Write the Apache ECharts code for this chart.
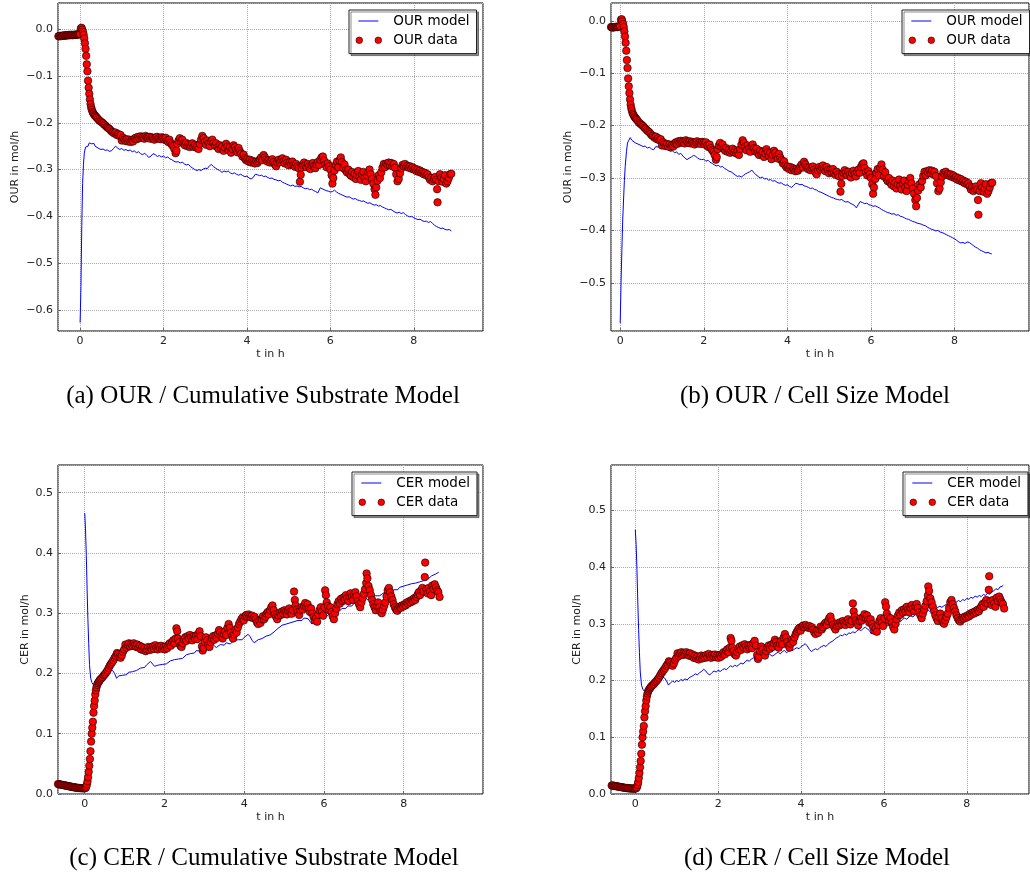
<!DOCTYPE html>
<html><head><meta charset="utf-8">
<script src="https://cdn.jsdelivr.net/npm/echarts@6/dist/echarts.min.js"></script>
<style>html,body{margin:0;padding:0;background:#fff}#c{width:1030px;height:876px}</style>
</head><body><div id="c"></div>
<script>
// ---- data: [t in h, value in mol/h] ----
const ourData = [
[-0.52,-0.015],[-0.50,-0.015],[-0.48,-0.014],[-0.46,-0.015],[-0.44,-0.014],[-0.42,-0.014],[-0.40,-0.014],[-0.38,-0.013],[-0.36,-0.014],[-0.34,-0.013],[-0.32,-0.013],[-0.30,-0.013],[-0.28,-0.013],[-0.26,-0.012],[-0.24,-0.013],[-0.22,-0.012],[-0.20,-0.012],[-0.18,-0.013],[-0.16,-0.012],[-0.14,-0.012],[-0.12,-0.012],[-0.10,-0.012],[-0.08,-0.011],[-0.06,-0.012],[-0.04,-0.011],[-0.02,-0.011],[0.00,-0.010],
[0.02,0.002],[0.035,0.003],[0.05,-0.001],[0.07,-0.006],[0.085,-0.012],[0.10,-0.02],[0.115,-0.03],[0.13,-0.042],[0.145,-0.057],[0.16,-0.075],[0.175,-0.09],[0.19,-0.11],[0.205,-0.125],[0.22,-0.138],[0.235,-0.15],[0.25,-0.16],[0.265,-0.167],[0.28,-0.172],[0.30,-0.177],[0.32,-0.18],[0.34,-0.183],[0.36,-0.185],[0.38,-0.187],[0.40,-0.189],[0.43,-0.192],[0.46,-0.195],[0.49,-0.197],[0.52,-0.199],[0.55,-0.201],[0.58,-0.204],[0.61,-0.206],[0.64,-0.209],[0.67,-0.211],[0.70,-0.213],[0.73,-0.216],[0.76,-0.219],[0.79,-0.22],[0.82,-0.223],[0.85,-0.221],[0.88,-0.226],[0.91,-0.224],[0.94,-0.228],[0.97,-0.226],
[1.00,-0.238],[1.03,-0.232],[1.06,-0.236],[1.09,-0.239],[1.12,-0.235],[1.15,-0.24],[1.18,-0.236],[1.21,-0.241],[1.24,-0.237],[1.27,-0.24],[1.30,-0.234],[1.33,-0.232],[1.36,-0.235],[1.39,-0.23],[1.42,-0.233],[1.45,-0.229],[1.48,-0.232],[1.51,-0.23],[1.54,-0.234],[1.57,-0.228],[1.60,-0.231],[1.63,-0.233],[1.66,-0.23],[1.69,-0.234],[1.72,-0.231],[1.75,-0.233],[1.78,-0.236],[1.81,-0.232],[1.84,-0.23],[1.87,-0.234],[1.90,-0.232],[1.93,-0.235],[1.96,-0.231],[1.99,-0.233],
[2.02,-0.236],[2.05,-0.232],[2.08,-0.238],[2.11,-0.241],[2.14,-0.236],[2.17,-0.243],[2.20,-0.247],[2.23,-0.25],[2.26,-0.256],[2.29,-0.265],[2.31,-0.26],[2.33,-0.245],[2.36,-0.238],[2.39,-0.233],[2.42,-0.24],[2.45,-0.236],[2.48,-0.244],[2.51,-0.248],[2.54,-0.243],[2.57,-0.25],[2.60,-0.246],[2.63,-0.252],[2.66,-0.248],[2.69,-0.244],[2.72,-0.251],[2.75,-0.247],[2.78,-0.253],[2.81,-0.249],[2.84,-0.256],[2.87,-0.245],[2.90,-0.236],[2.93,-0.228],[2.96,-0.233],[2.99,-0.24],
[3.02,-0.247],[3.05,-0.238],[3.08,-0.244],[3.11,-0.25],[3.14,-0.24],[3.17,-0.236],[3.20,-0.243],[3.23,-0.249],[3.26,-0.244],[3.29,-0.252],[3.32,-0.256],[3.35,-0.248],[3.38,-0.254],[3.41,-0.25],[3.44,-0.26],[3.47,-0.253],[3.50,-0.245],[3.53,-0.251],[3.56,-0.258],[3.59,-0.252],[3.62,-0.264],[3.65,-0.256],[3.68,-0.248],[3.71,-0.252],[3.74,-0.258],[3.77,-0.263],[3.80,-0.254],[3.83,-0.261],[3.86,-0.266],[3.89,-0.272],[3.92,-0.268],[3.95,-0.276],[3.98,-0.28],
[4.01,-0.278],[4.04,-0.283],[4.07,-0.279],[4.10,-0.285],[4.13,-0.281],[4.16,-0.284],[4.19,-0.287],[4.22,-0.283],[4.25,-0.286],[4.28,-0.282],[4.31,-0.278],[4.34,-0.274],[4.37,-0.28],[4.40,-0.269],[4.43,-0.274],[4.46,-0.279],[4.49,-0.283],[4.52,-0.28],[4.55,-0.285],[4.58,-0.281],[4.61,-0.278],[4.64,-0.284],[4.67,-0.289],[4.70,-0.293],[4.73,-0.285],[4.76,-0.279],[4.79,-0.284],[4.82,-0.28],[4.85,-0.276],[4.88,-0.282],[4.91,-0.287],[4.94,-0.279],[4.97,-0.285],
[5.00,-0.291],[5.03,-0.284],[5.06,-0.289],[5.09,-0.283],[5.12,-0.29],[5.15,-0.294],[5.18,-0.288],[5.21,-0.293],[5.24,-0.297],[5.27,-0.326],[5.29,-0.311],[5.31,-0.296],[5.34,-0.29],[5.37,-0.285],[5.40,-0.29],[5.43,-0.295],[5.46,-0.288],[5.49,-0.293],[5.52,-0.299],[5.55,-0.291],[5.58,-0.286],[5.61,-0.292],[5.64,-0.297],[5.67,-0.289],[5.70,-0.284],[5.73,-0.29],[5.76,-0.279],[5.79,-0.274],[5.82,-0.272],[5.85,-0.281],[5.88,-0.289],[5.91,-0.295],[5.94,-0.287],[5.97,-0.293],
[6.00,-0.3],[6.03,-0.312],[6.05,-0.33],[6.07,-0.318],[6.10,-0.302],[6.13,-0.29],[6.16,-0.283],[6.19,-0.295],[6.22,-0.281],[6.25,-0.274],[6.28,-0.284],[6.31,-0.297],[6.34,-0.289],[6.37,-0.302],[6.40,-0.306],[6.43,-0.3],[6.46,-0.309],[6.49,-0.313],[6.52,-0.305],[6.55,-0.316],[6.58,-0.309],[6.61,-0.32],[6.64,-0.312],[6.67,-0.303],[6.70,-0.315],[6.73,-0.322],[6.76,-0.31],[6.79,-0.305],[6.82,-0.318],[6.85,-0.325],[6.88,-0.313],[6.91,-0.306],[6.94,-0.3],[6.97,-0.31],
[7.00,-0.32],[7.03,-0.33],[7.06,-0.342],[7.08,-0.354],[7.10,-0.338],[7.13,-0.324],[7.16,-0.312],[7.19,-0.318],[7.22,-0.306],[7.25,-0.296],[7.28,-0.288],[7.31,-0.295],[7.34,-0.287],[7.37,-0.29],[7.40,-0.285],[7.43,-0.291],[7.46,-0.286],[7.49,-0.293],[7.52,-0.288],[7.55,-0.296],[7.58,-0.31],[7.61,-0.325],[7.64,-0.32],[7.67,-0.308],[7.70,-0.297],[7.73,-0.29],[7.76,-0.293],[7.79,-0.288],[7.82,-0.294],[7.85,-0.292],[7.88,-0.296],[7.91,-0.293],[7.94,-0.298],[7.97,-0.295],
[8.00,-0.3],[8.03,-0.298],[8.06,-0.303],[8.09,-0.3],[8.12,-0.305],[8.15,-0.302],[8.18,-0.307],[8.21,-0.305],[8.24,-0.31],[8.27,-0.307],[8.30,-0.312],[8.33,-0.31],[8.36,-0.316],[8.39,-0.322],[8.42,-0.318],[8.45,-0.325],[8.48,-0.32],[8.51,-0.316],[8.54,-0.322],[8.56,-0.342],[8.57,-0.37],[8.60,-0.325],[8.63,-0.31],[8.66,-0.318],[8.69,-0.326],[8.72,-0.32],[8.75,-0.312],[8.78,-0.33],[8.81,-0.325],[8.84,-0.318],[8.87,-0.31],[8.90,-0.309]
];

const ourModelA = [
[0,-0.627],[0.02,-0.55],[0.04,-0.42],[0.06,-0.33],[0.08,-0.29],[0.1,-0.265],[0.13,-0.252],[0.16,-0.249],[0.19,-0.25],[0.22,-0.243],[0.25,-0.24],[0.28,-0.245],[0.3,-0.248],[0.33,-0.244],[0.36,-0.25],[0.4,-0.253],[0.45,-0.255],[0.5,-0.257],[0.55,-0.256],[0.6,-0.259],[0.65,-0.258],[0.7,-0.261],[0.75,-0.26],[0.8,-0.255],[0.85,-0.25],[0.9,-0.254],[0.95,-0.257],[1.0,-0.255],[1.05,-0.259],[1.1,-0.257],[1.15,-0.26],[1.2,-0.258],[1.25,-0.262],[1.3,-0.26],[1.35,-0.264],[1.4,-0.262],[1.45,-0.266],[1.5,-0.268],[1.55,-0.265],[1.6,-0.27],[1.65,-0.274],[1.7,-0.271],[1.75,-0.266],[1.8,-0.268],[1.85,-0.272],[1.9,-0.27],[1.95,-0.273],[2.0,-0.271],[2.05,-0.275],[2.1,-0.273],[2.15,-0.277],[2.2,-0.279],[2.25,-0.282],[2.3,-0.284],[2.35,-0.283],[2.4,-0.286],[2.45,-0.284],[2.5,-0.288],[2.55,-0.29],[2.6,-0.289],[2.65,-0.294],[2.7,-0.297],[2.75,-0.3],[2.8,-0.302],[2.85,-0.3],[2.9,-0.302],[2.95,-0.299],[3.0,-0.297],[3.05,-0.298],[3.1,-0.292],[3.15,-0.289],[3.2,-0.294],[3.25,-0.297],[3.3,-0.3],[3.35,-0.302],[3.4,-0.306],[3.45,-0.303],[3.5,-0.305],[3.55,-0.303],[3.6,-0.307],[3.65,-0.309],[3.7,-0.307],[3.75,-0.31],[3.8,-0.312],[3.85,-0.31],[3.9,-0.313],[3.95,-0.315],[4.0,-0.314],[4.05,-0.318],[4.1,-0.32],[4.15,-0.317],[4.2,-0.31],[4.25,-0.311],[4.3,-0.313],[4.35,-0.312],[4.4,-0.315],[4.45,-0.314],[4.5,-0.317],[4.55,-0.319],[4.6,-0.318],[4.65,-0.321],[4.7,-0.322],[4.75,-0.324],[4.8,-0.323],[4.85,-0.327],[4.9,-0.329],[4.95,-0.331],[5.0,-0.333],[5.05,-0.335],[5.1,-0.333],[5.15,-0.336],[5.2,-0.335],[5.25,-0.337],[5.3,-0.336],[5.35,-0.339],[5.4,-0.341],[5.45,-0.34],[5.5,-0.343],[5.55,-0.342],[5.6,-0.345],[5.65,-0.347],[5.7,-0.35],[5.73,-0.344],[5.76,-0.339],[5.8,-0.342],[5.85,-0.343],[5.9,-0.345],[5.95,-0.346],[6.0,-0.348],[6.05,-0.347],[6.1,-0.344],[6.15,-0.348],[6.2,-0.351],[6.25,-0.353],[6.3,-0.355],[6.35,-0.357],[6.4,-0.359],[6.45,-0.358],[6.5,-0.361],[6.55,-0.363],[6.6,-0.362],[6.65,-0.365],[6.7,-0.366],[6.75,-0.368],[6.8,-0.367],[6.85,-0.37],[6.9,-0.372],[6.95,-0.371],[7.0,-0.374],[7.05,-0.376],[7.1,-0.375],[7.15,-0.378],[7.2,-0.377],[7.25,-0.38],[7.3,-0.382],[7.35,-0.384],[7.4,-0.386],[7.45,-0.385],[7.5,-0.388],[7.55,-0.391],[7.6,-0.393],[7.65,-0.391],[7.7,-0.394],[7.75,-0.392],[7.8,-0.396],[7.85,-0.399],[7.9,-0.401],[7.95,-0.4],[8.0,-0.403],[8.05,-0.405],[8.1,-0.407],[8.15,-0.406],[8.2,-0.409],[8.25,-0.411],[8.3,-0.41],[8.35,-0.413],[8.4,-0.411],[8.45,-0.415],[8.5,-0.419],[8.55,-0.422],[8.6,-0.424],[8.65,-0.426],[8.7,-0.425],[8.75,-0.428],[8.8,-0.429],[8.85,-0.428],[8.9,-0.431]
];

const ourModelB = [
[0,-0.577],[0.02,-0.5],[0.04,-0.437],[0.06,-0.38],[0.08,-0.342],[0.1,-0.305],[0.12,-0.278],[0.15,-0.25],[0.175,-0.233],[0.2,-0.229],[0.24,-0.223],[0.28,-0.228],[0.32,-0.231],[0.36,-0.233],[0.4,-0.231],[0.45,-0.236],[0.5,-0.238],[0.55,-0.24],[0.6,-0.239],[0.65,-0.243],[0.7,-0.241],[0.75,-0.245],[0.8,-0.246],[0.85,-0.24],[0.88,-0.237],[0.92,-0.241],[0.96,-0.244],[1.0,-0.242],[1.05,-0.245],[1.1,-0.243],[1.15,-0.247],[1.2,-0.249],[1.25,-0.248],[1.3,-0.252],[1.35,-0.25],[1.4,-0.255],[1.45,-0.253],[1.5,-0.258],[1.55,-0.262],[1.6,-0.265],[1.65,-0.262],[1.7,-0.26],[1.75,-0.257],[1.8,-0.258],[1.85,-0.262],[1.9,-0.264],[1.95,-0.265],[2.0,-0.264],[2.05,-0.268],[2.1,-0.266],[2.15,-0.27],[2.2,-0.272],[2.25,-0.275],[2.3,-0.277],[2.35,-0.276],[2.4,-0.279],[2.45,-0.278],[2.5,-0.282],[2.55,-0.284],[2.6,-0.287],[2.65,-0.288],[2.7,-0.291],[2.75,-0.294],[2.8,-0.297],[2.85,-0.296],[2.9,-0.298],[2.95,-0.295],[3.0,-0.292],[3.05,-0.29],[3.1,-0.288],[3.15,-0.285],[3.2,-0.29],[3.25,-0.294],[3.3,-0.297],[3.35,-0.3],[3.4,-0.298],[3.45,-0.302],[3.5,-0.301],[3.55,-0.304],[3.6,-0.303],[3.65,-0.306],[3.7,-0.305],[3.75,-0.308],[3.8,-0.31],[3.85,-0.309],[3.9,-0.312],[3.95,-0.314],[4.0,-0.313],[4.05,-0.316],[4.1,-0.318],[4.15,-0.314],[4.2,-0.31],[4.25,-0.311],[4.3,-0.313],[4.35,-0.312],[4.4,-0.315],[4.45,-0.316],[4.5,-0.318],[4.55,-0.32],[4.6,-0.319],[4.65,-0.322],[4.7,-0.323],[4.75,-0.326],[4.8,-0.327],[4.85,-0.329],[4.9,-0.331],[4.95,-0.333],[5.0,-0.335],[5.05,-0.337],[5.1,-0.338],[5.15,-0.34],[5.2,-0.341],[5.25,-0.342],[5.3,-0.341],[5.35,-0.344],[5.4,-0.346],[5.45,-0.345],[5.5,-0.348],[5.55,-0.35],[5.6,-0.352],[5.65,-0.357],[5.7,-0.35],[5.74,-0.345],[5.8,-0.347],[5.85,-0.349],[5.9,-0.348],[5.95,-0.351],[6.0,-0.352],[6.05,-0.354],[6.1,-0.353],[6.15,-0.355],[6.2,-0.357],[6.25,-0.36],[6.3,-0.362],[6.35,-0.364],[6.4,-0.366],[6.45,-0.367],[6.5,-0.369],[6.55,-0.368],[6.6,-0.371],[6.65,-0.37],[6.7,-0.373],[6.75,-0.374],[6.8,-0.376],[6.85,-0.378],[6.9,-0.379],[6.95,-0.381],[7.0,-0.383],[7.05,-0.384],[7.1,-0.386],[7.15,-0.387],[7.2,-0.388],[7.25,-0.39],[7.3,-0.391],[7.35,-0.394],[7.4,-0.396],[7.45,-0.398],[7.5,-0.399],[7.55,-0.401],[7.6,-0.4],[7.65,-0.403],[7.7,-0.404],[7.75,-0.406],[7.8,-0.408],[7.85,-0.41],[7.9,-0.412],[7.95,-0.414],[8.0,-0.416],[8.05,-0.419],[8.1,-0.422],[8.15,-0.424],[8.2,-0.423],[8.25,-0.425],[8.3,-0.422],[8.35,-0.423],[8.4,-0.426],[8.45,-0.429],[8.5,-0.432],[8.55,-0.434],[8.6,-0.437],[8.65,-0.439],[8.7,-0.441],[8.75,-0.443],[8.8,-0.442],[8.85,-0.444],[8.89,-0.445]
];

const cerData = [
[-0.67,0.0165],[-0.645,0.016],[-0.62,0.016],[-0.595,0.0155],[-0.57,0.015],[-0.545,0.015],[-0.52,0.0145],[-0.495,0.014],[-0.47,0.014],[-0.445,0.0135],[-0.42,0.013],[-0.395,0.013],[-0.37,0.0125],[-0.345,0.012],[-0.32,0.012],[-0.295,0.0115],[-0.27,0.011],[-0.245,0.011],[-0.22,0.0105],[-0.195,0.0105],[-0.17,0.01],[-0.145,0.01],[-0.12,0.0098],[-0.095,0.0097],[-0.07,0.0096],[-0.045,0.0095],[-0.02,0.0095],[0.0,0.0095],
[0.02,0.01],[0.04,0.012],[0.055,0.016],[0.07,0.021],[0.085,0.028],[0.1,0.037],[0.115,0.047],[0.13,0.058],[0.145,0.071],[0.16,0.087],[0.175,0.1],[0.19,0.11],[0.205,0.12],[0.22,0.135],[0.235,0.146],[0.25,0.155],[0.265,0.165],[0.28,0.172],[0.295,0.177],[0.31,0.181],[0.33,0.184],[0.35,0.186],[0.37,0.188],[0.39,0.19],[0.42,0.192],[0.45,0.194],[0.48,0.197],[0.51,0.199],[0.54,0.202],[0.57,0.205],[0.60,0.209],[0.63,0.213],[0.66,0.216],[0.69,0.219],[0.72,0.222],[0.75,0.226],[0.78,0.229],[0.81,0.234],[0.84,0.232],[0.87,0.228],[0.90,0.226],[0.93,0.23],[0.96,0.236],[0.99,0.24],
[1.02,0.248],[1.05,0.243],[1.08,0.247],[1.11,0.25],[1.14,0.245],[1.17,0.249],[1.20,0.246],[1.23,0.25],[1.26,0.247],[1.29,0.244],[1.32,0.248],[1.35,0.243],[1.38,0.246],[1.41,0.24],[1.44,0.244],[1.47,0.239],[1.50,0.242],[1.53,0.237],[1.56,0.24],[1.59,0.244],[1.62,0.239],[1.65,0.243],[1.68,0.24],[1.71,0.245],[1.74,0.241],[1.77,0.247],[1.80,0.243],[1.83,0.24],[1.86,0.245],[1.89,0.242],[1.92,0.246],[1.95,0.241],[1.98,0.244],
[2.01,0.24],[2.04,0.245],[2.07,0.242],[2.10,0.247],[2.13,0.25],[2.16,0.246],[2.19,0.252],[2.22,0.255],[2.25,0.25],[2.28,0.258],[2.30,0.275],[2.32,0.27],[2.34,0.258],[2.37,0.252],[2.40,0.246],[2.43,0.244],[2.46,0.25],[2.49,0.256],[2.52,0.26],[2.55,0.254],[2.58,0.262],[2.61,0.258],[2.64,0.264],[2.67,0.26],[2.70,0.255],[2.73,0.262],[2.76,0.258],[2.79,0.263],[2.82,0.257],[2.85,0.266],[2.88,0.27],[2.91,0.262],[2.94,0.245],[2.96,0.238],[2.98,0.242],
[3.01,0.252],[3.04,0.26],[3.07,0.255],[3.10,0.248],[3.13,0.244],[3.16,0.252],[3.19,0.258],[3.22,0.262],[3.25,0.256],[3.28,0.263],[3.31,0.259],[3.34,0.266],[3.37,0.272],[3.40,0.268],[3.43,0.262],[3.46,0.258],[3.49,0.265],[3.52,0.27],[3.55,0.264],[3.58,0.276],[3.61,0.282],[3.64,0.276],[3.67,0.268],[3.70,0.262],[3.72,0.258],[3.75,0.265],[3.78,0.272],[3.81,0.268],[3.84,0.276],[3.87,0.282],[3.90,0.286],[3.93,0.29],[3.96,0.293],[3.99,0.288],
[4.02,0.295],[4.05,0.297],[4.08,0.294],[4.11,0.298],[4.14,0.295],[4.17,0.293],[4.20,0.296],[4.23,0.292],[4.26,0.294],[4.29,0.29],[4.32,0.285],[4.35,0.282],[4.38,0.288],[4.41,0.284],[4.44,0.29],[4.47,0.295],[4.50,0.29],[4.53,0.294],[4.56,0.299],[4.59,0.302],[4.62,0.298],[4.65,0.305],[4.68,0.31],[4.71,0.313],[4.74,0.305],[4.77,0.298],[4.80,0.294],[4.83,0.29],[4.86,0.296],[4.89,0.301],[4.92,0.297],[4.95,0.303],[4.98,0.299],
[5.01,0.305],[5.04,0.302],[5.07,0.298],[5.10,0.304],[5.13,0.308],[5.16,0.303],[5.19,0.299],[5.22,0.305],[5.25,0.336],[5.27,0.322],[5.29,0.313],[5.32,0.306],[5.35,0.302],[5.38,0.297],[5.41,0.305],[5.44,0.31],[5.47,0.306],[5.50,0.312],[5.53,0.317],[5.56,0.31],[5.59,0.315],[5.62,0.308],[5.65,0.302],[5.68,0.308],[5.71,0.3],[5.74,0.294],[5.77,0.288],[5.80,0.292],[5.83,0.286],[5.86,0.298],[5.89,0.305],[5.92,0.31],[5.95,0.303],[5.98,0.296],
[6.01,0.31],[6.03,0.338],[6.05,0.33],[6.07,0.318],[6.10,0.312],[6.13,0.305],[6.16,0.31],[6.19,0.302],[6.22,0.295],[6.25,0.29],[6.28,0.3],[6.31,0.308],[6.34,0.315],[6.37,0.32],[6.40,0.316],[6.43,0.324],[6.46,0.32],[6.49,0.326],[6.52,0.322],[6.55,0.33],[6.58,0.325],[6.61,0.32],[6.64,0.328],[6.67,0.333],[6.70,0.327],[6.73,0.322],[6.76,0.331],[6.79,0.335],[6.82,0.328],[6.85,0.32],[6.88,0.315],[6.91,0.31],[6.94,0.318],[6.97,0.325],
[7.00,0.332],[7.03,0.34],[7.06,0.35],[7.07,0.366],[7.09,0.358],[7.12,0.345],[7.15,0.338],[7.18,0.33],[7.21,0.322],[7.24,0.315],[7.27,0.31],[7.30,0.305],[7.33,0.312],[7.36,0.318],[7.39,0.31],[7.42,0.303],[7.45,0.3],[7.48,0.306],[7.51,0.312],[7.54,0.318],[7.57,0.328],[7.60,0.338],[7.63,0.342],[7.66,0.335],[7.69,0.328],[7.72,0.322],[7.75,0.315],[7.78,0.31],[7.81,0.306],[7.84,0.304],[7.87,0.308],[7.90,0.311],[7.93,0.309],[7.96,0.313],[7.99,0.311],
[8.02,0.315],[8.05,0.313],[8.08,0.318],[8.11,0.316],[8.14,0.32],[8.17,0.318],[8.20,0.322],[8.23,0.32],[8.26,0.325],[8.29,0.322],[8.32,0.327],[8.35,0.331],[8.38,0.335],[8.41,0.33],[8.44,0.338],[8.47,0.342],[8.50,0.336],[8.53,0.36],[8.54,0.384],[8.57,0.34],[8.60,0.333],[8.63,0.342],[8.66,0.336],[8.69,0.33],[8.72,0.346],[8.75,0.34],[8.78,0.348],[8.81,0.343],[8.84,0.338],[8.87,0.335],[8.90,0.327]
];

const cerModelC = [
[0,0.466],[0.02,0.44],[0.04,0.396],[0.06,0.34],[0.08,0.29],[0.1,0.25],[0.12,0.215],[0.15,0.192],[0.18,0.185],[0.22,0.181],[0.26,0.18],[0.3,0.186],[0.35,0.19],[0.4,0.195],[0.45,0.198],[0.5,0.2],[0.55,0.203],[0.6,0.204],[0.65,0.206],[0.7,0.205],[0.75,0.2],[0.8,0.192],[0.85,0.196],[0.9,0.199],[0.95,0.197],[1.0,0.2],[1.05,0.198],[1.1,0.202],[1.15,0.2],[1.2,0.203],[1.25,0.201],[1.3,0.205],[1.35,0.207],[1.4,0.209],[1.45,0.212],[1.5,0.21],[1.55,0.214],[1.6,0.216],[1.65,0.22],[1.7,0.217],[1.75,0.212],[1.8,0.21],[1.85,0.214],[1.9,0.217],[1.95,0.215],[2.0,0.218],[2.05,0.216],[2.1,0.219],[2.15,0.221],[2.2,0.219],[2.25,0.223],[2.3,0.226],[2.35,0.224],[2.4,0.227],[2.45,0.225],[2.5,0.228],[2.55,0.231],[2.6,0.229],[2.65,0.233],[2.7,0.236],[2.75,0.234],[2.8,0.238],[2.85,0.24],[2.9,0.237],[2.95,0.241],[3.0,0.239],[3.05,0.242],[3.1,0.238],[3.15,0.244],[3.2,0.249],[3.25,0.246],[3.3,0.243],[3.35,0.245],[3.4,0.248],[3.45,0.25],[3.5,0.247],[3.55,0.251],[3.6,0.253],[3.65,0.249],[3.7,0.252],[3.75,0.255],[3.8,0.253],[3.85,0.256],[3.9,0.258],[3.95,0.256],[4.0,0.26],[4.05,0.262],[4.1,0.265],[4.15,0.261],[4.2,0.255],[4.25,0.251],[4.3,0.254],[4.35,0.256],[4.4,0.254],[4.45,0.258],[4.5,0.26],[4.55,0.262],[4.6,0.26],[4.65,0.264],[4.7,0.267],[4.75,0.269],[4.8,0.272],[4.85,0.275],[4.9,0.277],[4.95,0.28],[5.0,0.279],[5.05,0.282],[5.1,0.28],[5.15,0.284],[5.2,0.283],[5.25,0.286],[5.3,0.284],[5.35,0.288],[5.4,0.29],[5.45,0.288],[5.5,0.292],[5.55,0.294],[5.6,0.291],[5.65,0.288],[5.7,0.282],[5.75,0.289],[5.8,0.292],[5.85,0.29],[5.9,0.294],[5.95,0.296],[6.0,0.295],[6.05,0.298],[6.1,0.296],[6.15,0.3],[6.2,0.302],[6.25,0.3],[6.3,0.304],[6.35,0.306],[6.4,0.304],[6.45,0.308],[6.5,0.31],[6.55,0.308],[6.6,0.312],[6.65,0.314],[6.7,0.312],[6.75,0.316],[6.8,0.318],[6.85,0.317],[6.9,0.321],[6.95,0.323],[7.0,0.322],[7.05,0.326],[7.1,0.322],[7.15,0.325],[7.2,0.328],[7.25,0.326],[7.3,0.329],[7.35,0.331],[7.4,0.329],[7.45,0.332],[7.5,0.334],[7.55,0.331],[7.6,0.335],[7.65,0.337],[7.7,0.335],[7.75,0.339],[7.8,0.341],[7.85,0.339],[7.9,0.343],[7.95,0.341],[8.0,0.345],[8.05,0.343],[8.1,0.347],[8.15,0.345],[8.2,0.349],[8.25,0.347],[8.3,0.35],[8.35,0.348],[8.4,0.352],[8.45,0.35],[8.5,0.354],[8.55,0.352],[8.6,0.356],[8.65,0.358],[8.7,0.362],[8.75,0.36],[8.8,0.365],[8.85,0.366],[8.88,0.368]
];
const cerModelD = cerModelC; // panel (d) model reads the same as panel (c)

const captions = ['(a) OUR / Cumulative Substrate Model', '(b) OUR / Cell Size Model',
                  '(c) CER / Cumulative Substrate Model', '(d) CER / Cell Size Model'];
const yNames = ['OUR in mol/h', 'OUR in mol/h', 'CER in mol/h', 'CER in mol/h'];
const xName = 't in h';

// ---- layout ----
const panels = [
  {grid:{left:58, top:3, width:425, height:328}, x:[-0.53,9.66], y:[-0.645,0.056], split:7, gap:37,
   model:ourModelA, data:ourData, mName:'OUR model', dName:'OUR data', leg:{left:349, top:10}, cap:[263,396]},
  {grid:{left:611, top:3, width:418, height:328}, x:[-0.22,9.78], y:[-0.592,0.034], split:6, gap:37,
   model:ourModelB, data:ourData, mName:'OUR model', dName:'OUR data', leg:{left:902, top:10}, cap:[815,396]},
  {grid:{left:58, top:465, width:425, height:329}, x:[-0.67,9.99], y:[0,0.546], split:5, gap:27,
   model:cerModelC, data:cerData, mName:'CER model', dName:'CER data', leg:{left:352, top:472}, cap:[264,858]},
  {grid:{left:611, top:465, width:418, height:329}, x:[-0.586,9.5], y:[0,0.58], split:6, gap:28,
   model:cerModelD, data:cerData, mName:'CER model', dName:'CER data', leg:{left:903, top:472}, cap:[817,858]}
];

const lineIcon = 'path://M0,0M33,14M3,6.5h20v1h-20Z';
const dotsIcon = 'path://M0,0M33,14M0.7,7a3.3,3.3 0 1,0 6.6,0a3.3,3.3 0 1,0 -6.6,0ZM19.7,7a3.3,3.3 0 1,0 6.6,0a3.3,3.3 0 1,0 -6.6,0Z';

const fmtY = v => (v < 0 ? '\u2212' : '') + Math.abs(v).toFixed(1);
const tickFont = {fontFamily:'DejaVu Sans', fontSize:11, color:'#222'};

const option = {
  animation:false,
  backgroundColor:'#fff',
  grid: panels.map(p => Object.assign({show:true, borderColor:'#000', borderWidth:1, backgroundColor:'transparent'}, p.grid)),
  xAxis: panels.map((p,i) => ({
    type:'value', gridIndex:i, min:p.x[0], max:p.x[1], splitNumber:5,
    name:xName, nameLocation:'middle', nameGap:18,
    nameTextStyle:{fontFamily:'DejaVu Sans', fontSize:11, color:'#222'},
    axisLine:{show:false, onZero:false},
    axisTick:{show:true, inside:true, length:3, lineStyle:{color:'#666'}},
    axisLabel:Object.assign({margin:5, showMinLabel:false, showMaxLabel:false, formatter: v => String(Math.round(v))}, tickFont),
    splitLine:{show:true, lineStyle:{color:'#aaa', type:'dotted', width:1}}
  })),
  yAxis: panels.map((p,i) => ({
    type:'value', gridIndex:i, min:p.y[0], max:p.y[1], splitNumber:p.split,
    name:yNames[i], nameLocation:'middle', nameGap:p.gap,
    nameTextStyle:{fontFamily:'DejaVu Sans', fontSize:11, color:'#222'},
    axisLine:{show:false, onZero:false},
    axisTick:{show:true, inside:true, length:3, lineStyle:{color:'#666'}},
    axisLabel:Object.assign({margin:5, showMinLabel:i>=2, showMaxLabel:false, formatter: fmtY}, tickFont),
    splitLine:{show:true, lineStyle:{color:'#aaa', type:'dotted', width:1}}
  })),
  legend: panels.map((p,i) => ({
    orient:'vertical', left:p.leg.left, top:p.leg.top,
    padding:[4,7,6,6], itemGap:5, itemWidth:33, itemHeight:14,
    borderColor:'#222', borderWidth:1, backgroundColor:'#fff',
    shadowColor:'rgba(0,0,0,0.45)', shadowOffsetX:2, shadowOffsetY:2, shadowBlur:0,
    textStyle:{fontFamily:'DejaVu Sans', fontSize:13.5, color:'#000', padding:[0,0,0,0]},
    selectedMode:false,
    data:[
      {name:p.mName, icon:lineIcon, itemStyle:{color:'#0000ff', borderWidth:0}},
      {name:p.dName, icon:dotsIcon, itemStyle:{color:'#ff0000', borderColor:'#000', borderWidth:0.6}}
    ]
  })),
  series: [].concat(...panels.map((p,i) => ([
    {type:'line', name:p.mName, xAxisIndex:i, yAxisIndex:i, data:p.model, showSymbol:false, symbol:'none',
     lineStyle:{color:'#0000ff', width:1}, itemStyle:{color:'#0000ff'}, z:2},
    {type:'scatter', name:p.dName, xAxisIndex:i, yAxisIndex:i, data:p.data, symbol:'circle', symbolSize:7.5,
     progressive:0, itemStyle:{color:'#ff0000', borderColor:'#000', borderWidth:0.6, opacity:1}, z:3}
  ]))),
  graphic: panels.map((p,i) => ({
    type:'text', x:p.cap[0], y:p.cap[1],
    style:{text:captions[i], fontFamily:'Liberation Serif', fontSize:25, fill:'#000', align:'center', verticalAlign:'middle'}
  }))
};

const chart = echarts.init(document.getElementById('c'), null, {renderer:'canvas'});
chart.setOption(option);
</script>
</body></html>
